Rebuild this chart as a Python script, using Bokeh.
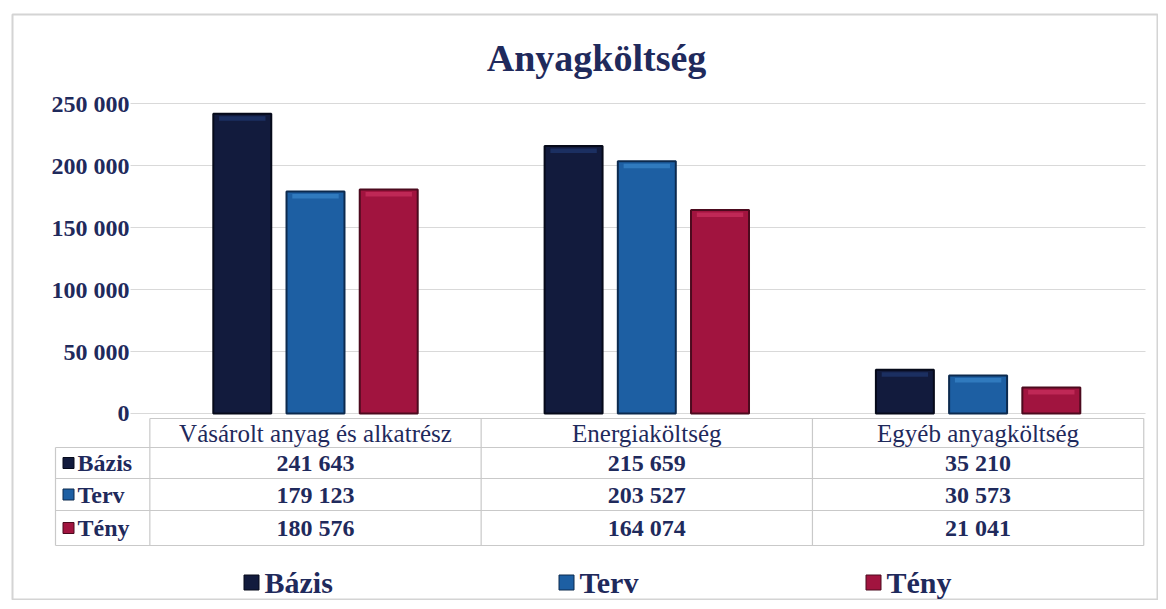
from bokeh.plotting import figure
from bokeh.models import Range1d
from bokeh.core.properties import value
from bokeh.embed import file_html
from bokeh.resources import INLINE

# ---- data ----
categories = ["Vásárolt anyag és alkatrész", "Energiaköltség", "Egyéb anyagköltség"]
series = ["Bázis", "Terv", "Tény"]
bazis = [241643, 215659, 35210]
terv = [179123, 203527, 30573]
teny = [180576, 164074, 21041]
y_ticks = [0, 50000, 100000, 150000, 200000, 250000]
y_tick_labels = ["0", "50 000", "100 000", "150 000", "200 000", "250 000"]
title_text = "Anyagköltség"

# ---- styles ----
fills = ["#121b3d", "#1d5fa3", "#a1143f"]
edges = ["#060a1a", "#0c2a4e", "#4c0a1e"]
highlights = ["#23407f", "#3f8fd6", "#d8396a"]
navy = "#1f2a5c"
serif = value("Liberation Serif")

# page-pixel -> data helpers (layout only)
CX0, CW = 315.0, 331.3
PY0, PPU = 413.0, 62.0 / 50000.0


def dx(px):
    return (px - CX0) / CW


def dy(py):
    return (PY0 - py) / PPU


W, H = 1158, 600
FL, FT = 12, 14  # frame left/top on page
p = figure(width=W, height=H, output_backend="svg", toolbar_location=None,
           min_border_left=FL, min_border_top=FT, min_border_right=0, min_border_bottom=0,
           x_range=Range1d(dx(FL), dx(W)), y_range=Range1d(dy(H), dy(FT)))
p.xaxis.visible = False
p.yaxis.visible = False
p.grid.visible = False
p.outline_line_color = "#d4d4d4"
p.outline_line_width = 2
p.background_fill_color = "white"

# grid lines
p.segment(x0=[dx(130)] * len(y_ticks), x1=[dx(1145)] * len(y_ticks), y0=y_ticks, y1=y_ticks,
          line_color="#d9d9d9", line_width=1.2)

# y tick labels
p.text(x=[dx(129)] * len(y_ticks), y=y_ticks, text=y_tick_labels, text_align="right",
       text_baseline="middle", text_font=serif, text_font_style="bold", text_font_size="24px",
       text_color=navy)

# bars
offsets = [-0.221, 0.0, 0.221]
bw = 0.175
values = [bazis, terv, teny]
xs_cat = list(range(len(categories)))
for s, vals in enumerate(values):
    xs = [i + offsets[s] for i in xs_cat]
    p.vbar(x=xs, top=vals, bottom=0, width=bw, fill_color=fills[s], line_color=edges[s], line_width=2)
    # bevel highlight along the top
    p.vbar(x=xs, top=[v - 2.5 / PPU for v in vals], bottom=[v - 7 / PPU for v in vals], width=bw * 0.8,
           fill_color=highlights[s], fill_alpha=0.55, line_color=None)

# ---- data table ----
grid_c = "#c9c9c9"
row_tops = [418, 447, 478, 510, 545]
left_lbl = dx(55)
xl, xr = -0.5, len(categories) - 0.5
p.segment(x0=[xl], x1=[xr], y0=[dy(row_tops[0])], y1=[dy(row_tops[0])], line_color=grid_c, line_width=1.2)
p.segment(x0=[left_lbl] * 4, x1=[xr] * 4, y0=[dy(v) for v in row_tops[1:]], y1=[dy(v) for v in row_tops[1:]],
          line_color=grid_c, line_width=1.2)
vx = [xl + k for k in range(len(categories) + 1)]
p.segment(x0=vx, x1=vx, y0=[dy(row_tops[0])] * len(vx), y1=[dy(row_tops[-1])] * len(vx),
          line_color=grid_c, line_width=1.2)
p.segment(x0=[left_lbl], x1=[left_lbl], y0=[dy(row_tops[1])], y1=[dy(row_tops[-1])],
          line_color=grid_c, line_width=1.2)

# header
p.text(x=xs_cat, y=[dy(433)] * 3, text=categories, text_align="center", text_baseline="middle",
       text_font=serif, text_font_size="25px", text_color=navy)

row_centers = [462.5, 494, 527.5]
for s, vals in enumerate(values):
    yc = dy(row_centers[s])
    p.text(x=xs_cat, y=[yc] * 3, text=[f"{v:,}".replace(",", " ") for v in vals], text_align="center",
           text_baseline="middle", text_font=serif, text_font_style="bold", text_font_size="24px",
           text_color=navy)
    p.scatter(x=[dx(68)], y=[yc], marker="square", size=11, fill_color=fills[s], line_color=edges[s])
    p.text(x=[dx(77)], y=[yc], text=[series[s]], text_align="left", text_baseline="middle",
           text_font=serif, text_font_style="bold", text_font_size="24px", text_color=navy)

# ---- legend ----
leg_x = [251, 566, 873]
leg_y = dy(582)
for s in range(len(series)):
    p.scatter(x=[dx(leg_x[s])], y=[leg_y], marker="square", size=15, fill_color=fills[s], line_color=edges[s])
    p.text(x=[dx(leg_x[s] + 13)], y=[leg_y], text=[series[s]], text_align="left", text_baseline="middle",
           text_font=serif, text_font_style="bold", text_font_size="30px", text_color=navy)

# title
p.text(x=[dx(596)], y=[dy(57)], text=[title_text], text_align="center", text_baseline="middle",
       text_font=serif, text_font_style="bold", text_font_size="38px", text_color=navy)

open("out.html", "w").write(file_html(p, INLINE))
